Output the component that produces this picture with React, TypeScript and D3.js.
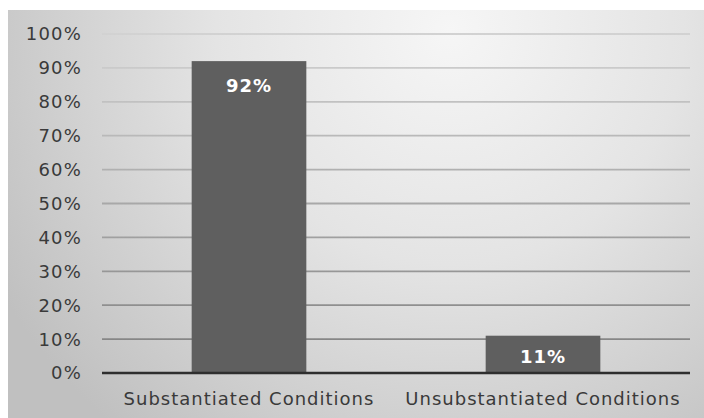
import React from "react";
import * as d3 from "d3";

const categories = ["Substantiated Conditions", "Unsubstantiated Conditions"];
const values = [0.92, 0.11];
const valueLabels = ["92%", "11%"];
const yTicks = [0, 0.1, 0.2, 0.3, 0.4, 0.5, 0.6, 0.7, 0.8, 0.9, 1.0];

export default function App() {
  const W = 704, H = 418;
  const left = 102, right = 690, top = 34, bottom = 373;
  const x = d3.scaleBand<string>().domain(categories).range([left, right]).paddingInner(0.61).paddingOuter(0.305);
  const y = d3.scaleLinear().domain([0, 1]).range([bottom, top]);
  const fmt = d3.format(".0%");
  const font = "'DejaVu Sans', Verdana, sans-serif";
  return (
    <svg width={W} height={H} style={{ position: "absolute", left: 0, top: 0 }}>
      <defs>
        <radialGradient id="bg" gradientUnits="userSpaceOnUse" cx={450} cy={30} r={520}>
          <stop offset="0" stopColor="#f6f6f6" />
          <stop offset="0.45" stopColor="#e4e4e4" />
          <stop offset="1" stopColor="#c0c0c0" />
        </radialGradient>
        <linearGradient id="grid" gradientUnits="userSpaceOnUse" x1={0} y1={top} x2={0} y2={bottom}>
          <stop offset="0" stopColor="#d2d2d2" />
          <stop offset="1" stopColor="#7e7e7e" />
        </linearGradient>
      </defs>
      <rect x={0} y={0} width={W} height={H} fill="#fff" />
      <rect x={8} y={10} width={W - 8} height={H - 10} fill="url(#bg)" />
      {yTicks.filter((t) => t > 0).map((t) => (
        <line key={t} x1={left} x2={right} y1={y(t)} y2={y(t)} stroke="url(#grid)" strokeWidth={1.8} />
      ))}
      {categories.map((c, i) => (
        <rect key={c} x={x(c)} y={y(values[i])} width={x.bandwidth()} height={bottom - y(values[i])} fill="#5f5f5f" />
      ))}
      <line x1={left} x2={right} y1={bottom} y2={bottom} stroke="#2e2e2e" strokeWidth={2.5} />
      {yTicks.map((t) => (
        <text key={t} x={82} y={y(t)} dy="0.36em" textAnchor="end" fontFamily={font} fontSize={18} letterSpacing={1.2} fill="#3a3a3a">
          {fmt(t)}
        </text>
      ))}
      {categories.map((c) => (
        <text key={c} x={(x(c) as number) + x.bandwidth() / 2} y={405} textAnchor="middle" fontFamily={font} fontSize={18} letterSpacing={1} fill="#3a3a3a">
          {c}
        </text>
      ))}
      {categories.map((c, i) => (
        <text key={c} x={(x(c) as number) + x.bandwidth() / 2} y={values[i] > 0.5 ? y(values[i]) + 31 : y(values[i]) + 27} textAnchor="middle" fontFamily={font} fontSize={18} letterSpacing={1} fontWeight="bold" fill="#ffffff">
          {valueLabels[i]}
        </text>
      ))}
    </svg>
  );
}
